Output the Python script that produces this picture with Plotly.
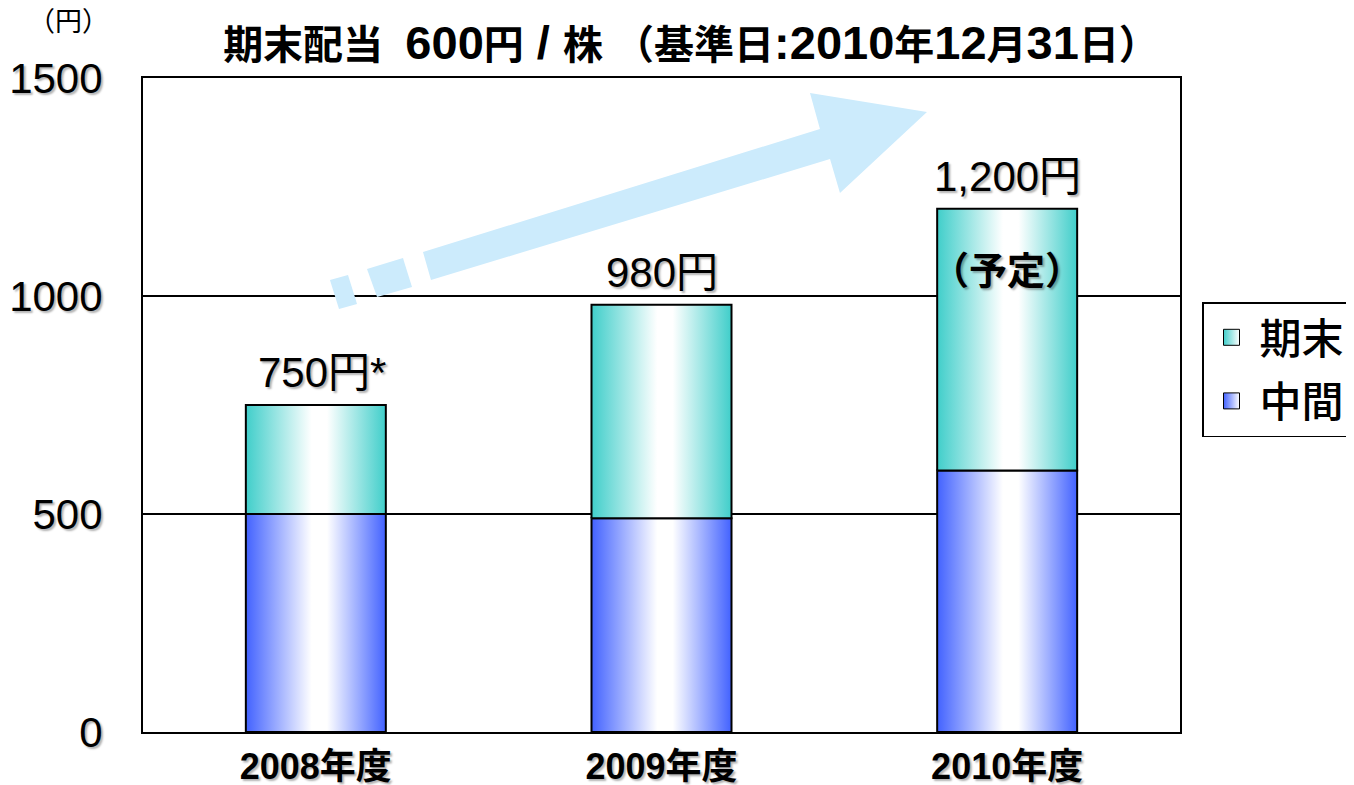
import plotly.graph_objects as go

# ---- data ----
years = ["2008年度", "2009年度", "2010年度"]
interim = [500, 490, 600]      # 中間
year_end = [250, 490, 600]     # 期末
total_suffix = ["*", "", ""]
series_names = ["中間", "期末"]
note_text = "（予定）"
unit_text = "（円）"
y_ticks = [0, 500, 1000, 1500]

# ---- style ----
BLUE = "#4262FF"
TEAL = "#40CECA"
BAR_W = 0.405
FONT = "Liberation Sans, Arial, Noto Sans CJK JP, sans-serif"
SHADOW = "2px 2px 2px rgba(0,0,0,0.3)"
BIG = '<span style="font-size:47px">{}</span>'
title_text = ("期末配当\u00a0\u00a0" + BIG.format("600") + "円" + BIG.format(" / ")
              + "株 （基準日" + BIG.format(":2010") + "年" + BIG.format("12")
              + "月" + BIG.format("31") + "日）")


def grad(c):
    return dict(type="horizontal",
                colorscale=[[0, c], [0.47, "#ffffff"], [0.58, "#ffffff"], [1, c]])


fig = go.Figure()

colors = {series_names[0]: BLUE, series_names[1]: TEAL}

# legend swatches (期末 listed first)
for name in [series_names[1], series_names[0]]:
    fig.add_trace(go.Scatter(
        x=[None], y=[None], mode="markers", name=name, legendgroup=name,
        marker=dict(symbol="square", size=16, color=colors[name],
                    gradient=dict(type="horizontal", color="white"),
                    line=dict(color="black", width=1)),
        showlegend=True, hoverinfo="skip"))

for s_idx, (name, vals) in enumerate([(series_names[0], interim),
                                        (series_names[1], year_end)]):
    color = colors[name]
    for i, v in enumerate(vals):
        base = 0 if s_idx == 0 else interim[i]
        x0, x1 = i - BAR_W / 2, i + BAR_W / 2
        fig.add_trace(go.Scatter(
            x=[x0, x1, x1, x0, x0],
            y=[base, base, base + v, base + v, base],
            mode="lines",
            fill="toself",
            fillgradient=grad(color),
            fillcolor=color,
            line=dict(color="black", width=2),
            name=name,
            legendgroup=name,
            showlegend=False,
            hoverinfo="skip",
        ))

annotations = []
for i in range(len(years)):
    tot = interim[i] + year_end[i]
    annotations.append(dict(
        x=i, y=tot, xref="x", yref="y", text=f"{tot:,}円{total_suffix[i]}",
        showarrow=False, yanchor="bottom", yshift=7,
        xshift=6 if total_suffix[i] else 0,
        font=dict(family=FONT, size=42, color="black", shadow=SHADOW)))

annotations.append(dict(
    x=2, y=interim[2] + year_end[2], xref="x", yref="y", text=note_text,
    showarrow=False, yanchor="middle", yshift=-62,
    font=dict(family=FONT, size=38, color="black", weight="bold", shadow=SHADOW)))

annotations.append(dict(
    x=-0.0714, y=1.0856, xref="paper", yref="paper", text=unit_text,
    showarrow=False, xanchor="center", yanchor="middle",
    font=dict(family=FONT, size=27, color="black")))


def P(px, py):
    # screenshot pixel -> plot-area paper coordinates
    return (px - 143) / 1037, (732 - py) / 654


def poly(points):
    pts = [P(*p) for p in points]
    return "M " + " L ".join(f"{x:.4f},{y:.4f}" for x, y in pts) + " Z"


ARROW_COL = "#CCEBFC"
arrow_parts = [
    [(330, 280), (348, 275), (357, 304), (339, 309)],
    [(367, 269), (403, 258), (412, 287), (377, 297)],
    [(423, 252), (820, 129), (810, 93), (927, 112), (840, 193), (830, 159), (431, 280)],
]
shapes = [dict(type="path", xref="paper", yref="paper", path=poly(p),
               fillcolor=ARROW_COL, line=dict(width=0), layer="above")
          for p in arrow_parts]

W, H = 1346, 777
fig.update_layout(
    width=W, height=H,
    margin=dict(l=135, r=174, t=70, b=53),
    paper_bgcolor="white", plot_bgcolor="white",
    title=dict(text=title_text, x=683 / W, xanchor="center",
               y=1 - 37 / H, yanchor="middle",
               font=dict(family=FONT, size=40, color="black", weight="bold")),
    xaxis=dict(range=[-0.5, 2.5], tickvals=list(range(len(years))), ticktext=years,
               showgrid=False, zeroline=False, showline=True, linecolor="black",
               linewidth=2, mirror=True, ticks="", ticklabelstandoff=2,
               automargin=False,
               tickfont=dict(family=FONT, size=36, color="black", weight="bold",
                             shadow=SHADOW)),
    yaxis=dict(range=[0, 1500], tickvals=y_ticks, showgrid=True, gridcolor="black",
               gridwidth=1.5, zeroline=False, showline=True, linecolor="black",
               linewidth=2, mirror=True, ticks="", ticklabelstandoff=30,
               automargin=False,
               tickfont=dict(family=FONT, size=42, color="black", shadow=SHADOW)),
    legend=dict(xref="container", yref="container",
                x=1194 / W, xanchor="left", y=1 - 294 / H, yanchor="top",
                traceorder="grouped", tracegroupgap=6,
                bordercolor="black", borderwidth=1.5,
                bgcolor="white",
                font=dict(family=FONT, size=42, color="black", weight=500),
                itemwidth=46),
    annotations=annotations,
    shapes=shapes,
    showlegend=True,
)

fig.write_html("out.html")
